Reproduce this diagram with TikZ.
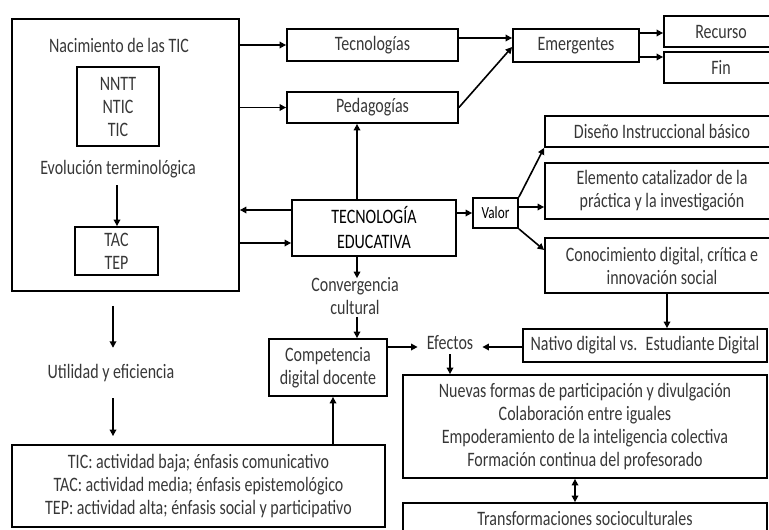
\documentclass[tikz,border=0pt]{standalone}
\usepackage{fontspec}
\setmainfont{Carlito}[FakeStretch=0.78]
\usetikzlibrary{arrows.meta,calc}
\definecolor{txt}{RGB}{55,55,55}
\begin{document}
\begin{tikzpicture}[x=1pt,y=-1pt,
  box/.style={draw=black,line width=1.8pt,rectangle,align=center,inner sep=0pt,text=txt},
  lbl/.style={align=center,text=txt,inner sep=0pt},
  arr/.style={line width=1.6pt,-{Triangle[length=6.5pt,width=6.5pt]}},
  darr/.style={line width=1.6pt,{Triangle[length=6.5pt,width=6.5pt]}-{Triangle[length=6.5pt,width=6.5pt]}},
  every node/.style={font=\fontsize{20.5}{23}\selectfont}]
\clip (0,0) rectangle (769,530);
% boxes
\node[box,minimum width=227,minimum height=272] (big) at (125.5,155) {};
\node[lbl] (nac) at (119,45) {Nacimiento de las TIC};
\node[box,minimum width=82,minimum height=79] (nntt) at (118,106.5) {NNTT\\NTIC\\TIC};
\node[lbl] (evo) at (118,169) {Evolución terminológica};
\node[box,minimum width=83,minimum height=48] (tac) at (116.5,251) {TAC\\TEP};
\node[box,minimum width=171,minimum height=32] (tec) at (372.5,45) {Tecnologías};
\node[box,minimum width=171,minimum height=31] (ped) at (372.5,107.5) {Pedagogías};
\node[box,minimum width=126,minimum height=33] (emer) at (576,45.5) {Emergentes};
\node[box,minimum width=114,minimum height=31] (rec) at (721,31.5) {Recurso};
\node[box,minimum width=114,minimum height=31] (fin) at (721,67.5) {Fin};
\node[box,minimum width=164,minimum height=56,text=black,font=\fontsize{20.5}{25}\selectfont] (tecedu) at (374,228) {TECNOLOGÍA\\EDUCATIVA};
\node[box,minimum width=45,minimum height=30,text=black,font=\fontsize{17}{18}\selectfont] (valor) at (495.5,213) {Valor};
\node[box,minimum width=234,minimum height=31] (dis) at (662,131.5) {Diseño Instruccional básico};
\node[box,minimum width=234,minimum height=56] (ele) at (662,191) {Elemento catalizador de la\\práctica y la investigación};
\node[box,minimum width=234,minimum height=55] (con) at (662,265.5) {Conocimiento digital, crítica e\\innovación social};
\node[lbl] (conv) at (355,296) {Convergencia\\cultural};
\node[lbl,minimum height=50] (util) at (111,373) {Utilidad y eficiencia};
\node[box,minimum width=373,minimum height=82] (bot) at (198.5,486) {TIC: actividad baja; énfasis comunicativo\\TAC: actividad media; énfasis epistemológico\\TEP: actividad alta; énfasis social y participativo};
\node[box,minimum width=118,minimum height=57] (comp) at (328,367.5) {Competencia\\digital docente};
\node[lbl,inner xsep=9pt,inner ysep=4pt] (efe) at (450,343) {Efectos};
\node[box,minimum width=244,minimum height=33] (nat) at (645,345.5) {Nativo digital vs.~ Estudiante Digital};
\node[box,minimum width=364,minimum height=103] (nue) at (585,426.5) {Nuevas formas de participación y divulgación\\Colaboración entre iguales\\Empoderamiento de la inteligencia colectiva\\Formación continua del profesorado};
\node[box,minimum width=364,minimum height=30] (tra) at (585,518) {Transformaciones socioculturales};
% helper coordinates
\coordinate (y33) at (0,33);
\coordinate (y38) at (0,38);
\coordinate (y47) at (0,47);
\coordinate (y57) at (0,57);
\coordinate (y207) at (0,207);
\coordinate (y210) at (0,210);
\coordinate (y243) at (0,243);
\coordinate (y250) at (0,250);
\coordinate (y347) at (0,347);
\coordinate (x113) at (113,0);
\coordinate (x117) at (117,0);
\coordinate (x333) at (333,0);
\coordinate (x357) at (357,0);
\coordinate (x575) at (575,0);
\coordinate (x667) at (667,0);
% arrows
\draw[arr] (evo.south -| x117) ++(0,7) -- (tac.north -| x117);
\draw[arr] (big.east |- tec.west) -- (tec.west);
\draw[arr] (big.east |- ped.west) -- (ped.west);
\draw[arr] (tecedu.west |- y210) -- (big.east |- y210);
\draw[arr] (big.east |- y243) -- (tecedu.west |- y243);
\draw[arr] (tec.east |- y38) -- (emer.west |- y38);
\draw[arr] (ped.east) -- (emer.west |- y47);
\draw[arr] (emer.east |- y33) -- (rec.west |- y33);
\draw[arr] (emer.east |- y57) -- (fin.west |- y57);
\draw[arr] (tecedu.north -| x357) -- (ped.south -| x357);
\draw[arr] (tecedu.east |- valor.west) -- (valor.west);
\draw[arr] (valor.north east) -- (dis.south west);
\draw[arr] (valor.east |- y207) -- (ele.west |- y207);
\draw[arr] (valor.south east) -- (con.west |- y250);
\draw[arr] (tecedu.south -| x357) -- ([yshift=-1pt]conv.north -| x357);
\draw[arr] (conv.south -| x357) ++(0,2) -- (comp.north -| x357);
\draw[arr] (con.south -| x667) -- (nat.north -| x667);
\draw[arr,shorten <=14pt] (big.south -| x113) -- (util.north -| x113);
\draw[arr,shorten >=8pt] (util.south -| x113) -- (bot.north -| x113);
\draw[arr] (bot.north -| x333) -- (comp.south -| x333);
\draw[arr] (comp.east |- y347) -- (efe.west |- y347);
\draw[arr] (nat.west |- y347) -- (efe.east |- y347);
\draw[arr] (efe.south) -- (efe.south |- nue.north);
\draw[darr] (nue.south -| x575) -- (tra.north -| x575);
\end{tikzpicture}
\end{document}
